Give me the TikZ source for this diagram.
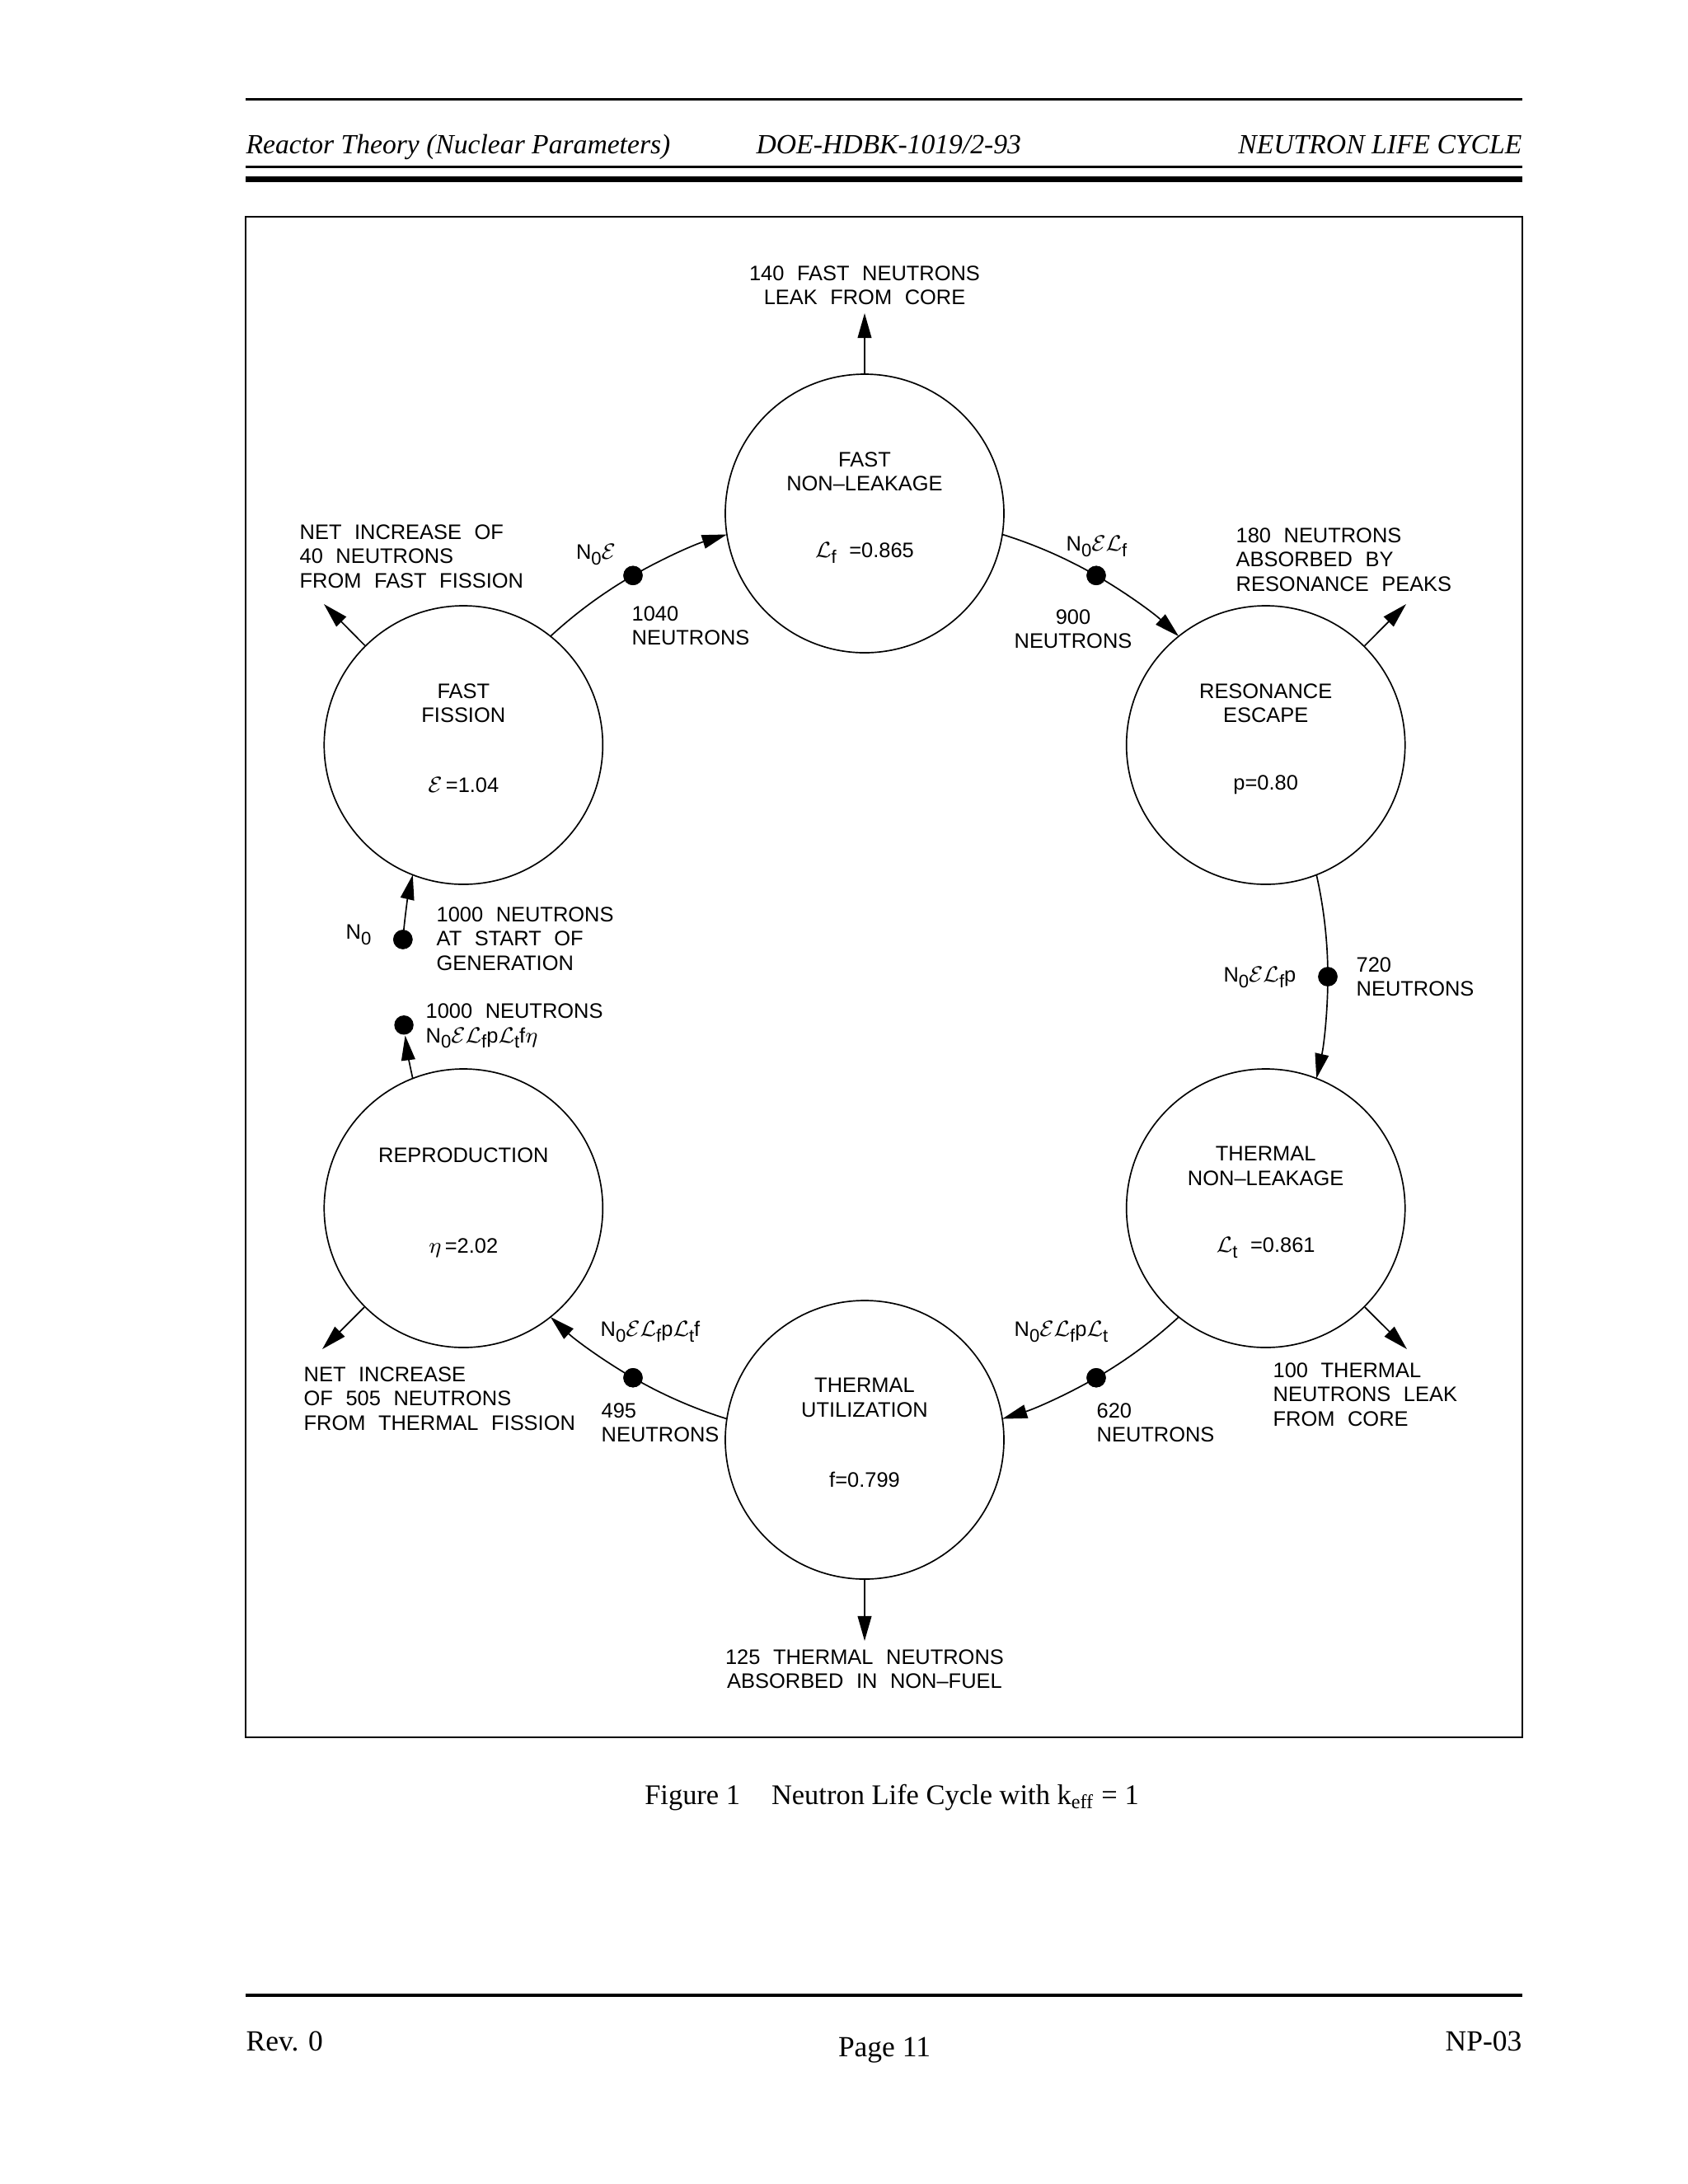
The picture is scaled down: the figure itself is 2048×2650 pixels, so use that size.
\documentclass[tikz,border=0pt]{standalone}
\usepackage{fontspec}
\setmainfont{Liberation Serif}
\newfontfamily\cad[WordSpace=2.2]{Liberation Sans}
\usetikzlibrary{arrows.meta,calc}
\newcommand\lowsub[1]{\raisebox{-0.5ex}{\fontsize{6.6}{6.6}\selectfont #1}}
\newcommand\cycE{$\mathcal{E}$}
\newcommand\cycL{$\mathcal{L}$}
\newcommand\Nz{N\lowsub{0}}
\begin{document}
\begin{tikzpicture}[x=0.2988pt,y=-0.2988pt,
  stage/.style={circle, draw, line width=0.5pt, minimum size=101pt, inner sep=0pt},
  dotn/.style={circle, fill=black, minimum size=7pt, inner sep=0pt},
  lab/.style={font=\cad\fontsize{7.6}{8.8}\selectfont, inner sep=0pt, align=left},
  labc/.style={lab, align=center},
  flow/.style={line width=0.5pt, -{Triangle[length=9pt,width=5pt]}},
  plain/.style={line width=0.5pt},
  hdr/.style={font=\itshape\fontsize{10.05}{12}\selectfont, inner sep=0pt},
  ftr/.style={font=\fontsize{10.6}{12}\selectfont, inner sep=0pt},
  capt/.style={font=\fontsize{10.3}{12}\selectfont, inner sep=0pt}]
\fill[white] (0,0) rectangle (2048,2650);
\useasboundingbox (0,0) rectangle (2048,2650);

% header
\draw[line width=1pt] (298,120.5) -- (1847,120.5);
\node[hdr, anchor=base west] (h1) at (298,186) {Reactor Theory (Nuclear Parameters)};
\node[hdr, anchor=base west] (h2) at (917,186) {DOE-HDBK-1019/2-93};
\node[hdr, anchor=base east] (h3) at (1847,186) {NEUTRON LIFE CYCLE};
\draw[line width=0.75pt] (298,202.5) -- (1847,202.5);
\draw[line width=2pt] (298,217.5) -- (1847,217.5);

% frame
\draw[line width=0.8pt] (298,263) rectangle (1847,2108);

% centre of the cycle
\coordinate (hc) at (1049,1185);

% stages
\node[stage] (fnl) at ($(hc)+(270:562)$) {};
\node[stage] (re) at ($(hc)+(330:562)$) {};
\node[stage] (tnl) at ($(hc)+(30:562)$) {};
\node[stage] (tu) at ($(hc)+(90:562)$) {};
\node[stage] (rp) at ($(hc)+(150:562)$) {};
\node[stage] (ff) at ($(hc)+(210:562)$) {};

% stage texts
\node[labc] (fnlT) at (1049,572) {FAST\\NON\textendash LEAKAGE};
\node[lab] (fnlV) at (1049,671) {\cycL\lowsub{f} =0.865};
\node[labc] (reT) at (1535.7,853) {RESONANCE\\ESCAPE};
\node[lab] (reV) at (1535.7,952) {p=0.80};
\node[labc] (tnlT) at (1535.7,1415) {THERMAL\\NON\textendash LEAKAGE};
\node[lab] (tnlV) at (1535.7,1514) {\cycL\lowsub{t} =0.861};
\node[labc] (tuT) at (1049,1696) {THERMAL\\UTILIZATION};
\node[lab] (tuV) at (1049,1795) {f=0.799};
\node[lab] (rpT) at (562.3,1402) {REPRODUCTION};
\node[lab] (rpV) at (562.3,1514) {$\eta$\,=2.02};
\node[labc] (ffT) at (562.3,853) {FAST\\FISSION};
\node[lab] (ffV) at (562.3,952) {\cycE\,=1.04};

% points where the cycle meets the stage circles
\coordinate (ffA) at ($(hc)+(192.7:562)$);
\coordinate (ffB) at ($(hc)+(227.3:562)$);
\coordinate (fnlB) at ($(hc)+(287.3:562)$);
\coordinate (reB) at ($(hc)+(347.3:562)$);
\coordinate (tnlB) at ($(hc)+(47.3:562)$);
\coordinate (tuB) at ($(hc)+(107.3:562)$);
\coordinate (rpB) at ($(hc)+(167.3:562)$);

% dots on the cycle
\node[dotn] (d1) at ($(hc)+(240:562)$) {};
\node[dotn] (d2) at ($(hc)+(300:562)$) {};
\node[dotn] (d3) at ($(hc)+(0:562)$) {};
\node[dotn] (d4) at ($(hc)+(60:562)$) {};
\node[dotn] (d5) at ($(hc)+(120:562)$) {};
\node[dotn] (d0) at ($(hc)+(184.6:562)$) {};
\node[dotn] (d6) at ($(hc)+(174:562)$) {};

% cycle connectors (arcs of the cycle circle)
\draw[plain] (ffB) arc[start angle=227.3, end angle=240, radius=562];
\draw[flow] (d1.center) arc[start angle=240, end angle=252.7, radius=562];
\draw[plain] (fnlB) arc[start angle=287.3, end angle=300, radius=562];
\draw[flow] (d2.center) arc[start angle=300, end angle=312.7, radius=562];
\draw[plain] (reB) arc[start angle=347.3, end angle=360, radius=562];
\draw[flow] (d3.center) arc[start angle=0, end angle=12.7, radius=562];
\draw[plain] (tnlB) arc[start angle=47.3, end angle=60, radius=562];
\draw[flow] (d4.center) arc[start angle=60, end angle=72.7, radius=562];
\draw[plain] (tuB) arc[start angle=107.3, end angle=120, radius=562];
\draw[flow] (d5.center) arc[start angle=120, end angle=132.7, radius=562];
\draw[flow] (d0.center) arc[start angle=184.6, end angle=192.7, radius=562];
\draw[flow] (rpB) arc[start angle=167.3, end angle=172.7, radius=562];
\node[dotn] at (d1) {};
\node[dotn] at (d2) {};
\node[dotn] at (d3) {};
\node[dotn] at (d4) {};
\node[dotn] at (d5) {};
\node[dotn] at (d0) {};

% leakage arrows
\coordinate (fnlOut) at (1049,380);
\coordinate (reOut) at (1706,733);
\coordinate (tnlOut) at (1707,1637);
\coordinate (tuOut) at (1049,1991);
\coordinate (rpOut) at (391,1637);
\coordinate (ffOut) at (393,733);
\draw[flow] (fnl) -- (fnlOut);
\draw[flow] (re) -- (reOut);
\draw[flow] (tnl) -- (tnlOut);
\draw[flow] (tu) -- (tuOut);
\draw[flow] (rp) -- (rpOut);
\draw[flow] (ff) -- (ffOut);

% leakage texts
\node[labc] (tFNL) at (1049,346) {140 FAST NEUTRONS\\LEAK FROM CORE};
\node[lab, anchor=west] (tRE) at (1499,679) {180 NEUTRONS\\ABSORBED BY\\RESONANCE PEAKS};
\node[lab, anchor=west] (tTNL) at (1544,1692) {100 THERMAL\\NEUTRONS LEAK\\FROM CORE};
\node[labc] (tTU) at (1049,2025) {125 THERMAL NEUTRONS\\ABSORBED IN NON\textendash FUEL};
\node[lab, anchor=west] (tRP) at (368,1697) {NET INCREASE\\OF 505 NEUTRONS\\FROM THERMAL FISSION};
\node[lab, anchor=west] (tFF) at (363,675) {NET INCREASE OF\\40 NEUTRONS\\FROM FAST FISSION};

% cycle labels
\node[lab] (f1) at (723,673) {\Nz\cycE};
\node[lab, anchor=west] (n1) at (766,759) {1040\\NEUTRONS};
\node[lab, anchor=west] (f2) at (1293,663) {\Nz\cycE\cycL\lowsub{f}};
\node[labc] (n2) at (1302,763) {900\\NEUTRONS};
\node[lab, anchor=east] (f3) at (1573,1186) {\Nz\cycE\cycL\lowsub{f}p};
\node[lab, anchor=west] (n3) at (1645,1185) {720\\NEUTRONS};
\node[lab, anchor=west] (f4) at (1230,1616) {\Nz\cycE\cycL\lowsub{f}p\cycL\lowsub{t}};
\node[lab, anchor=west] (n4) at (1330,1726) {620\\NEUTRONS};
\node[lab, anchor=west] (f5) at (728,1616) {\Nz\cycE\cycL\lowsub{f}p\cycL\lowsub{t}f};
\node[lab, anchor=west] (n5) at (729,1726) {495\\NEUTRONS};
\node[lab] (f0) at (435,1134) {\Nz};
\node[lab, anchor=west] (n0) at (529,1139) {1000 NEUTRONS\\AT START OF\\GENERATION};
\node[lab, anchor=west] (n6) at (516,1245) {1000 NEUTRONS\\\Nz\cycE\cycL\lowsub{f}p\cycL\lowsub{t}f$\eta$};

% caption
\node[capt, anchor=base] (cap) at (1082,2189) {Figure 1\hspace{1.1em}Neutron Life Cycle with k\textsubscript{eff} = 1};

% footer
\draw[line width=1pt] (298,2421) -- (1847,2421);
\node[ftr, anchor=base west] (fl) at (298,2488) {Rev. 0};
\node[ftr, anchor=base] (fc) at (1073,2495) {Page 11};
\node[ftr, anchor=base east] (fr) at (1847,2488) {NP-03};
\end{tikzpicture}
\end{document}
